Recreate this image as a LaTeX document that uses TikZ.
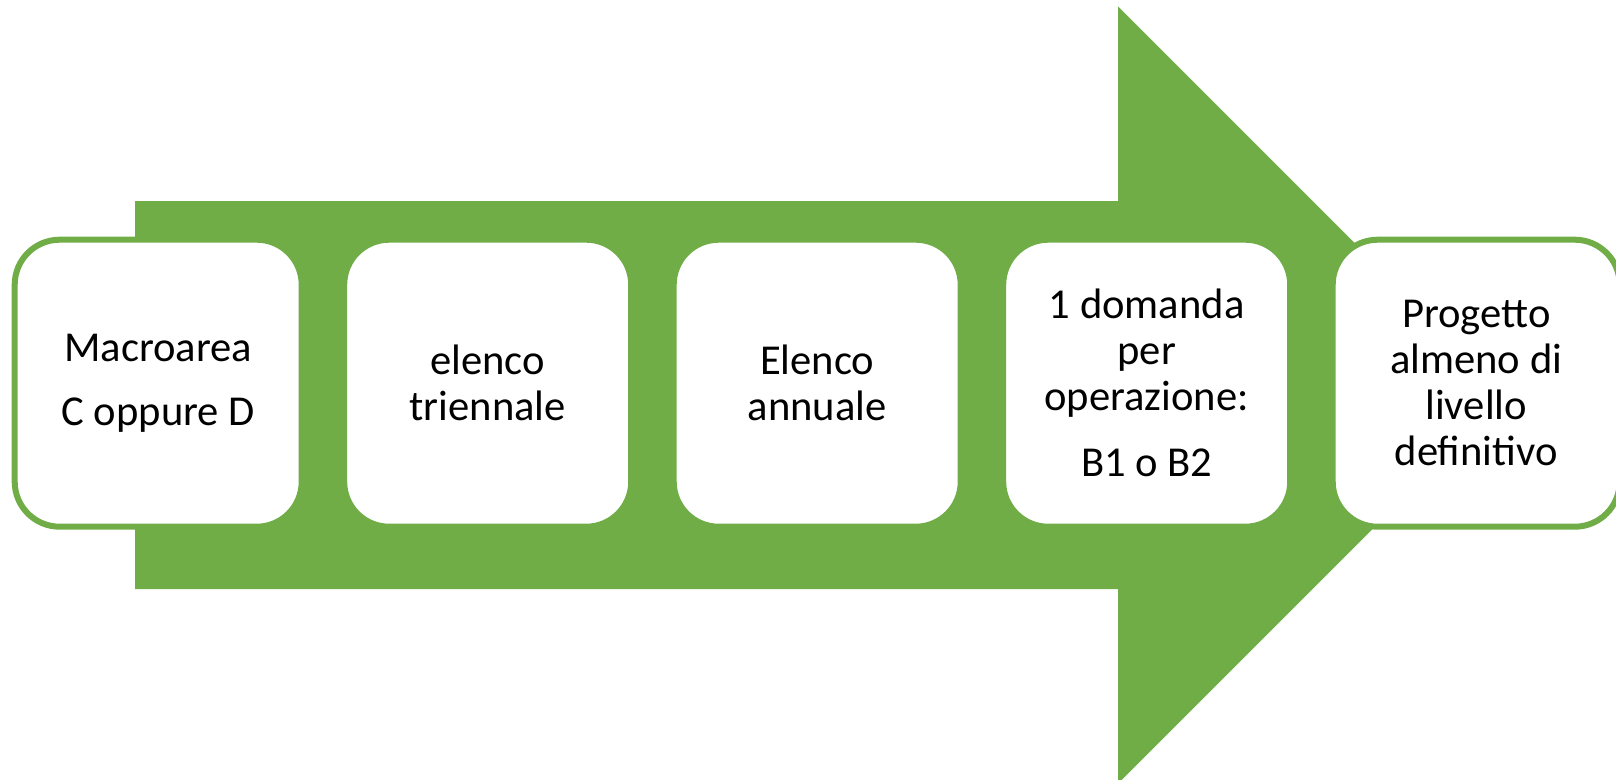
\documentclass[tikz,border=0pt]{standalone}
\usepackage{fontspec}
\setmainfont{Carlito}
\definecolor{accgreen}{HTML}{70AD47}
\begin{document}
\begin{tikzpicture}[x=1pt,y=-1pt,
  stepbox/.style={draw=accgreen, line width=6pt, fill=white, rounded corners=45pt,
    minimum width=287pt, minimum height=287pt, inner sep=0pt, text width=270pt,
    align=flush center, font=\fontsize{42.6}{45.9}\selectfont}]
\useasboundingbox (0,0) rectangle (1616,779);
\clip (0,0) rectangle (1616,779);
% big arrow
\fill[accgreen] (135,201) -- (1118,201) -- (1118,6.5) -- (1506.5,395)
  -- (1118,783.5) -- (1118,589) -- (135,589) -- cycle;
% steps
\node[stepbox] (b1) at (158.2,383.2) {Macroarea\\[18.4pt]C oppure D};
\node[stepbox] (b2) at (487.7,383.2) {elenco\\triennale};
\node[stepbox] (b3) at (817.2,383.2) {Elenco\\annuale};
\node[stepbox] (b4) at (1146.7,383.2) {1 domanda\\per\\operazione:\\[20pt]B1 o B2};
\node[stepbox] (b5) at (1476.2,383.2) {Progetto\\almeno di\\livello\\definitivo};
\end{tikzpicture}
\end{document}
